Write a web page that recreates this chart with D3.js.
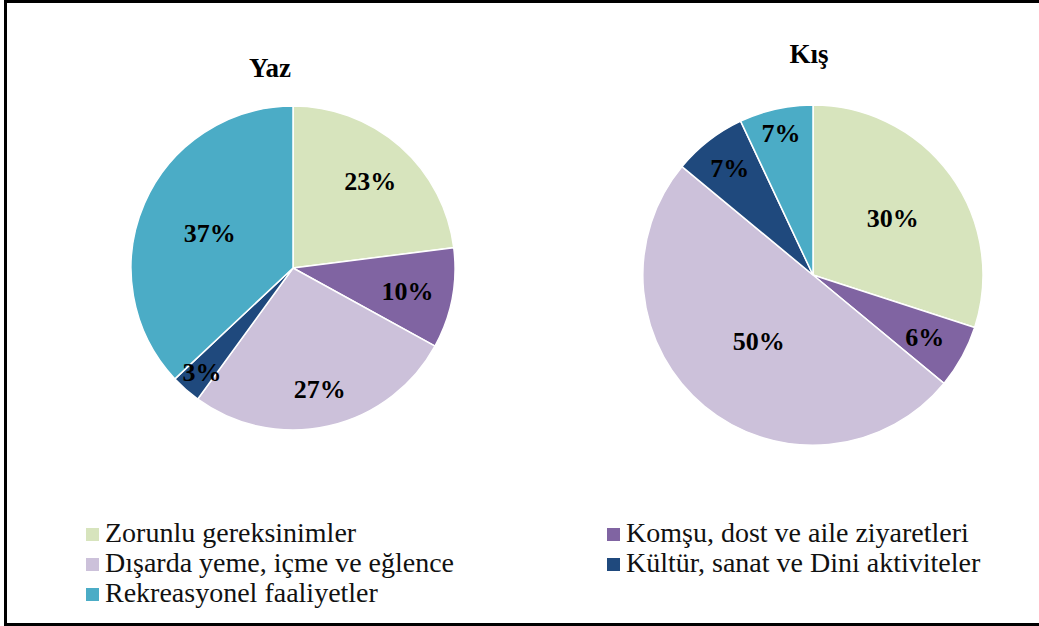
<!DOCTYPE html>
<html>
<head>
<meta charset="utf-8">
<script src="https://cdn.jsdelivr.net/npm/d3@7"></script>
<style>
  body { margin: 0; background: #fff; }
</style>
</head>
<body>
<div id="chart"></div>
<script>
// categories (same order for both pies)
var categories = [
	'Zorunlu gereksinimler',
	'Komşu, dost ve aile ziyaretleri',
	'Dışarda yeme, içme ve eğlence',
	'Kültür, sanat ve Dini aktiviteler',
	'Rekreasyonel faaliyetler'
];
var colors = ['#D7E4BD', '#8064A2', '#CCC1DA', '#1F497D', '#4BACC6'];

var yazValues = [23, 10, 27, 3, 37];
var kisValues = [30, 6, 50, 7, 7];

// label distance from centre, as a fraction of the radius (excel "best fit")
var yazLabelR = [0.72, 0.72, 0.76, 0.85, 0.56];
var kisLabelR = [0.58, 0.75, 0.50, 0.80, 0.86];

var width = 1039, height = 626;
var fontFam = "'Liberation Serif'";

var svg = d3.select('#chart')
	.append('svg')
	.attr('width', width)
	.attr('height', height);

// outer frame (right side runs off the picture)
svg.append('rect')
	.attr('x', 5.5).attr('y', 1.5)
	.attr('width', 1045).attr('height', 623)
	.attr('fill', 'none')
	.attr('stroke', '#000')
	.attr('stroke-width', 3);

function drawPie(values, labelR, title, cx, cy, r, titleX, titleY)
{
	var g = svg.append('g').attr('transform', 'translate(' + cx + ',' + cy + ')');

	var pie = d3.pie().sort(null).value(d => d.value);
	var arcs = pie(values.map((v, i) => ({value: v, i: i})));

	var arc = d3.arc().innerRadius(0).outerRadius(r);

	g.selectAll('path')
		.data(arcs)
		.join('path')
		.attr('d', arc)
		.attr('fill', d => colors[d.data.i])
		.attr('stroke', '#fff')
		.attr('stroke-width', 1.5);

	g.selectAll('text.lbl')
		.data(arcs)
		.join('text')
		.attr('class', 'lbl')
		.attr('transform', d => {
			var a = (d.startAngle + d.endAngle) / 2;
			var rr = r * labelR[d.data.i];
			return 'translate(' + (Math.sin(a) * rr) + ',' + (-Math.cos(a) * rr) + ')';
		})
		.attr('text-anchor', 'middle')
		.attr('dy', '0.38em')
		.style('font-family', fontFam)
		.style('font-size', '26px')
		.style('font-weight', 'bold')
		.attr('fill', '#000')
		.text(d => d.data.value + '%');

	svg.append('text')
		.attr('x', titleX).attr('y', titleY)
		.attr('text-anchor', 'middle')
		.style('font-family', fontFam)
		.style('font-size', '27px')
		.style('font-weight', 'bold')
		.text(title);
}

drawPie(yazValues, yazLabelR, 'Yaz', 293, 268, 162, 270, 77);
drawPie(kisValues, kisLabelR, 'Kış', 813, 275, 170, 809, 63);

// legend
var legendPos = [
	{x: 86, y: 542}, {x: 607, y: 542},
	{x: 86, y: 572}, {x: 607, y: 572},
	{x: 86, y: 602}
];

var leg = svg.append('g')
	.selectAll('g')
	.data(categories)
	.join('g')
	.attr('transform', (d, i) => 'translate(' + legendPos[i].x + ',' + legendPos[i].y + ')');

leg.append('rect')
	.attr('x', 0).attr('y', -14)
	.attr('width', 13).attr('height', 13)
	.attr('fill', (d, i) => colors[i]);

leg.append('text')
	.attr('x', 19).attr('y', 0)
	.style('font-family', fontFam)
	.style('font-size', '28px')
	.attr('fill', '#111')
	.text(d => d);
</script>
</body>
</html>
